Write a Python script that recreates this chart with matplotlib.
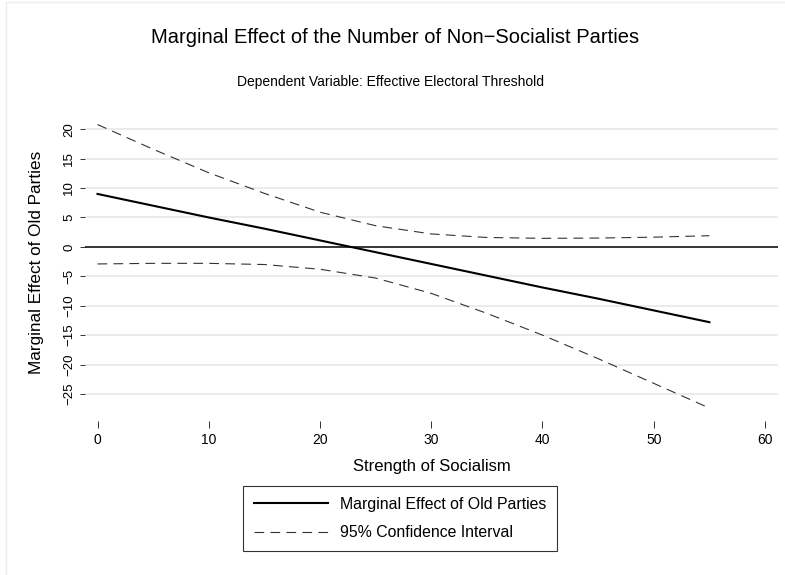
import matplotlib
matplotlib.use("Agg")
import matplotlib.pyplot as plt
from matplotlib.patches import Rectangle

plt.rcParams["font.family"] = ["Liberation Sans", "DejaVu Sans"]
plt.rcParams["lines.scale_dashes"] = False

# ------ marginal effect of old parties vs strength of socialism ------
socialism = [0, 5, 10, 15, 20, 25, 30, 35, 40, 45, 50, 55]
effect = [9.0, 7.0, 5.0, 3.1, 1.1, -0.9, -2.9, -4.9, -6.9, -8.8, -10.8, -12.8]
ci_upper = [20.8, 16.6, 12.6, 9.1, 5.9, 3.6, 2.2, 1.6, 1.45, 1.5, 1.65, 1.9]
ci_lower = [-2.9, -2.8, -2.8, -3.0, -3.8, -5.3, -7.9, -11.3, -15.0, -19.0, -23.2, -27.4]

x_ticks = [0, 10, 20, 30, 40, 50, 60]
y_ticks = [-25, -20, -15, -10, -5, 0, 5, 10, 15, 20]

W, H = 785, 575
fig = plt.figure(figsize=(W / 100, H / 100), dpi=100)
ax = fig.add_axes([85 / W, 1 - 421 / H, (778 - 85) / W, (421 - 111) / H])

ax.set_xlim(-1.124, 61.17)
ax.set_ylim(-29.6, 23.1)

for y in y_ticks:
    if y != 0:
        ax.axhline(y, color="#e8e8e8", lw=1.2, zorder=0)
ax.axhline(0, color="black", lw=1.1, zorder=2)

ax.plot(socialism, effect, color="black", lw=1.5, zorder=3,
        label="Marginal Effect of Old Parties")
ax.plot(socialism, ci_upper, color="#333333", lw=0.8, dashes=(7, 4.5), zorder=3,
        label="95% Confidence Interval")
ax.plot(socialism, ci_lower, color="#333333", lw=0.8, dashes=(7, 4.5), zorder=3)

for s in ax.spines.values():
    s.set_visible(False)

ax.set_xticks(x_ticks)
ax.set_yticks(y_ticks)
ax.set_yticklabels([str(v).replace("-", "\u2212") for v in y_ticks],
                   rotation=90, va="center")
ax.tick_params(axis="x", length=5, width=0.7, color="#333333", pad=3.6, labelsize=10)
ax.tick_params(axis="y", length=3.6, width=0.7, color="#333333", pad=3.5, labelsize=9.5)

ax.set_xlabel("Strength of Socialism", fontsize=12, labelpad=9)
fig.text(37 / W, 1 - 262 / H, "Marginal Effect of Old Parties", rotation=90,
         ha="center", va="center", fontsize=12.3)

fig.text(0.503, 1 - 43 / H, "Marginal Effect of the Number of Non\u2212Socialist Parties",
         ha="center", va="baseline", fontsize=14.5)
fig.text(0.4975, 1 - 85.7 / H, "Dependent Variable: Effective Electoral Threshold",
         ha="center", va="baseline", fontsize=10)

leg = fig.legend(loc="upper center", bbox_to_anchor=(400 / W, 1 - 486 / H),
                 fontsize=11.4, frameon=True, fancybox=False, edgecolor="black",
                 handlelength=4.7, handletextpad=0.75, borderpad=0.68,
                 labelspacing=0.85, borderaxespad=0)
leg.get_frame().set_linewidth(0.8)

# faint outer frame of the graph region
fig.patches.append(Rectangle((6 / W, -0.1), 1.2, 1 - 2.5 / H + 0.1,
                             transform=fig.transFigure, fill=False,
                             edgecolor="#ececec", lw=1.0))

fig.savefig("out.png", dpi=100)
